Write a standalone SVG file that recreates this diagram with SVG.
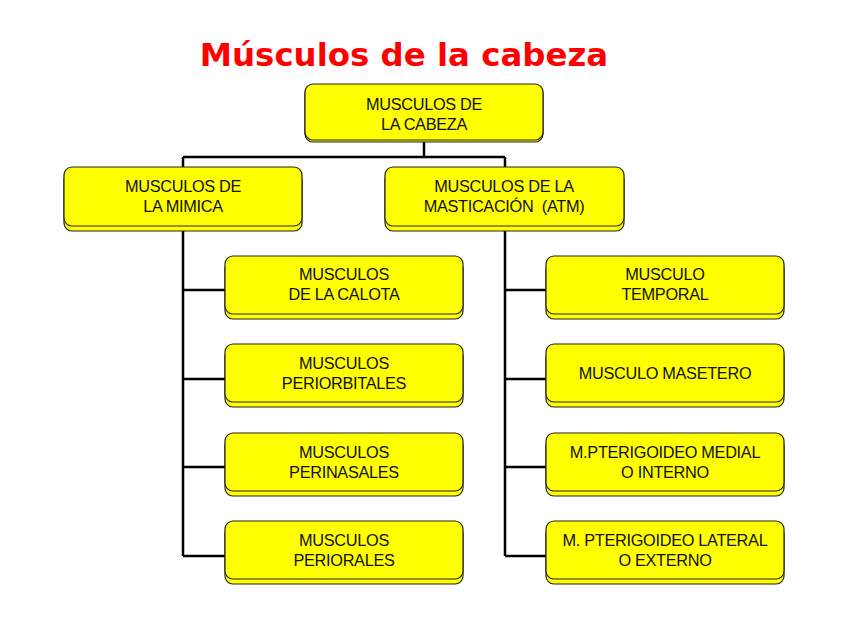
<svg xmlns="http://www.w3.org/2000/svg" width="848" height="636" viewBox="0 0 848 636">
<style>
.b{fill:#ffff00;stroke:#222;stroke-width:1.2}
.t{font-family:"Liberation Sans",Arial,sans-serif;font-size:16.3px;fill:#111;text-anchor:middle;letter-spacing:-0.3px;white-space:pre}
.c{stroke:#000;stroke-width:2.5;fill:none}
</style>
<rect width="848" height="636" fill="#fff"/>
<text x="404" y="66" font-family="'DejaVu Sans',Verdana,sans-serif" font-weight="bold" font-size="32.4" fill="#ff0000" text-anchor="middle">Músculos de la cabeza</text>
<g id="connectors">
<path class="c" d="M424 141V157M183 157H505M183 157V167M505 157V167M183 226V556M505 226V556M183 290H225M183 379H225M183 467H225M183 556H225M505 290H546M505 379H546M505 467H546M505 556H546"/>
</g>
<g id="n0"><rect class="b" x="305" y="86" width="238" height="56" rx="8"/><rect class="b" x="305" y="84" width="238" height="56" rx="8"/><text class="t" x="424" y="110">MUSCULOS DE</text><text class="t" x="424" y="130">LA CABEZA</text></g>
<g id="n1"><rect class="b" x="64" y="172" width="238" height="59" rx="8"/><rect class="b" x="64" y="167" width="238" height="59" rx="8"/><text class="t" x="183" y="192">MUSCULOS DE</text><text class="t" x="183" y="212">LA MIMICA</text></g>
<g id="n2"><rect class="b" x="385" y="172" width="239" height="59" rx="8"/><rect class="b" x="385" y="167" width="239" height="59" rx="8"/><text class="t" x="504" y="192">MUSCULOS DE LA</text><text class="t" x="504" y="212">MASTICACIÓN  (ATM)</text></g>
<g id="n3"><rect class="b" x="225" y="261" width="238" height="58" rx="8"/><rect class="b" x="225" y="256" width="238" height="58" rx="8"/><text class="t" x="344" y="280">MUSCULOS</text><text class="t" x="344" y="300">DE LA CALOTA</text></g>
<g id="n4"><rect class="b" x="225" y="349" width="238" height="58" rx="8"/><rect class="b" x="225" y="344" width="238" height="58" rx="8"/><text class="t" x="344" y="369">MUSCULOS</text><text class="t" x="344" y="389">PERIORBITALES</text></g>
<g id="n5"><rect class="b" x="225" y="438" width="238" height="58" rx="8"/><rect class="b" x="225" y="433" width="238" height="58" rx="8"/><text class="t" x="344" y="458">MUSCULOS</text><text class="t" x="344" y="478">PERINASALES</text></g>
<g id="n6"><rect class="b" x="225" y="526" width="238" height="58" rx="8"/><rect class="b" x="225" y="521" width="238" height="58" rx="8"/><text class="t" x="344" y="546">MUSCULOS</text><text class="t" x="344" y="566">PERIORALES</text></g>
<g id="n7"><rect class="b" x="546" y="261" width="238" height="58" rx="8"/><rect class="b" x="546" y="256" width="238" height="58" rx="8"/><text class="t" x="665" y="280">MUSCULO</text><text class="t" x="665" y="300">TEMPORAL</text></g>
<g id="n8"><rect class="b" x="546" y="349" width="238" height="58" rx="8"/><rect class="b" x="546" y="344" width="238" height="58" rx="8"/><text class="t" x="665" y="379">MUSCULO MASETERO</text></g>
<g id="n9"><rect class="b" x="546" y="438" width="238" height="58" rx="8"/><rect class="b" x="546" y="433" width="238" height="58" rx="8"/><text class="t" x="665" y="458">M.PTERIGOIDEO MEDIAL</text><text class="t" x="665" y="478">O INTERNO</text></g>
<g id="n10"><rect class="b" x="546" y="526" width="238" height="58" rx="8"/><rect class="b" x="546" y="521" width="238" height="58" rx="8"/><text class="t" x="665" y="546">M. PTERIGOIDEO LATERAL</text><text class="t" x="665" y="566">O EXTERNO</text></g>
</svg>
